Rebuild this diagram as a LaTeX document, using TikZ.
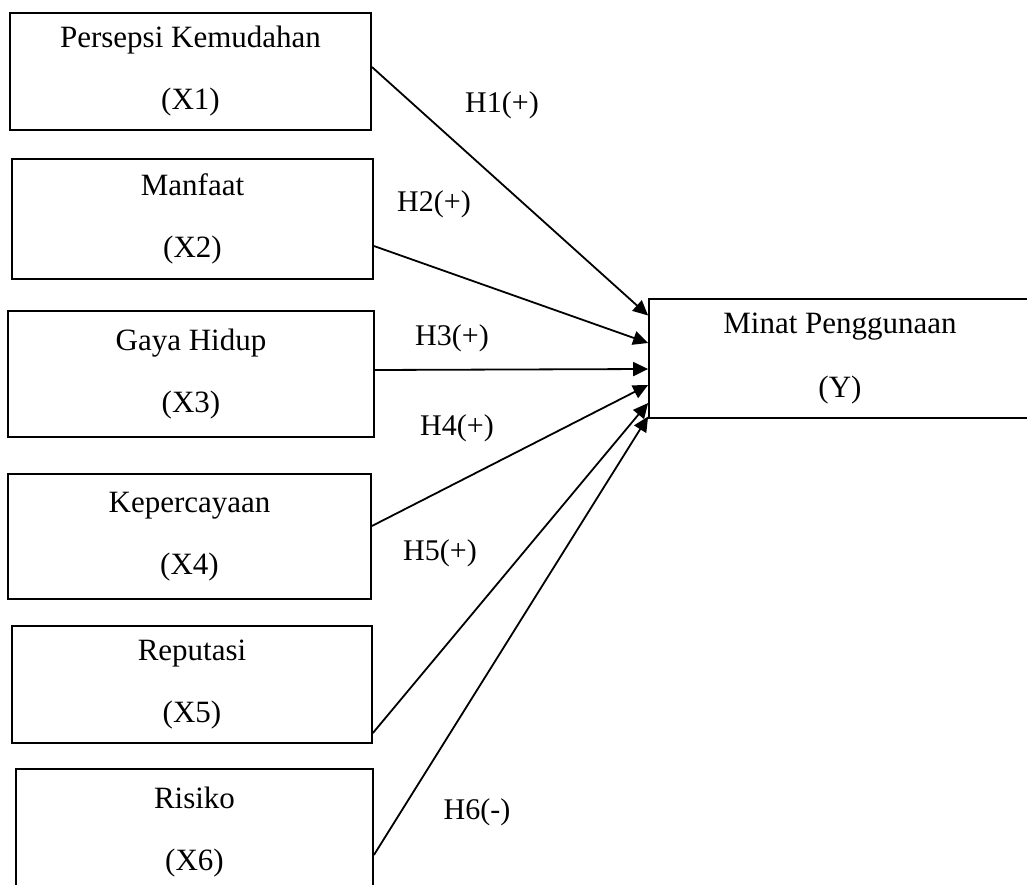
\documentclass[tikz,border=0pt]{standalone}
\usepackage{fontspec}
\setmainfont{Liberation Serif}
\usetikzlibrary{arrows.meta}
\begin{document}
\begin{tikzpicture}[x=1pt,y=-1pt,
  var/.style={draw,line width=1.8pt,inner sep=0pt,align=center,
    font=\fontsize{31}{62}\selectfont},
  lab/.style={inner sep=0pt,font=\fontsize{30}{36}\selectfont},
  conn/.style={line width=1.8pt,-{Triangle[length=15pt,width=14pt]}}]
\useasboundingbox (0,0) rectangle (1027,885);
\node[var,minimum width=361pt,minimum height=117pt] (X1) at (190.5,71.5) {Persepsi Kemudahan\\(X1)};
\node[var,minimum width=361pt,minimum height=120pt] (X2) at (192.5,219) {Manfaat\\(X2)};
\node[var,minimum width=366pt,minimum height=126pt] (X3) at (191,374) {Gaya Hidup\\(X3)};
\node[var,minimum width=363pt,minimum height=125pt] (X4) at (189.5,536.5) {Kepercayaan\\(X4)};
\node[var,minimum width=360pt,minimum height=117pt] (X5) at (192,684.5) {Reputasi\\(X5)};
\node[var,minimum width=357pt,minimum height=126pt] (X6) at (194.5,832) {Risiko\\(X6)};
\node[var,minimum width=382pt,minimum height=119pt,font=\fontsize{31}{64}\selectfont] (Y) at (840,358.5) {Minat Penggunaan\\(Y)};
\draw[conn] ([yshift=4.5pt]X1.east) -- ([yshift=43pt]Y.west);
\draw[conn] ([yshift=-27pt]X2.east) -- ([yshift=15.5pt]Y.west);
\draw[conn] ([yshift=4pt]X3.east) -- ([yshift=-10.5pt]Y.west);
\draw[conn] ([yshift=10.5pt]X4.east) -- ([yshift=-26.5pt]Y.west);
\draw[conn] ([yshift=-48.5pt]X5.east) -- ([yshift=-44.5pt]Y.west);
\draw[conn] ([yshift=-23pt]X6.east) -- ([yshift=-58pt]Y.west);
\node[lab] (h1) at (502,105) {H1(+)};
\node[lab] (h2) at (434,204) {H2(+)};
\node[lab] (h3) at (452,338) {H3(+)};
\node[lab] (h4) at (457,428) {H4(+)};
\node[lab] (h5) at (440,553) {H5(+)};
\node[lab] (h6) at (477,812) {H6(-)};
\end{tikzpicture}
\end{document}
